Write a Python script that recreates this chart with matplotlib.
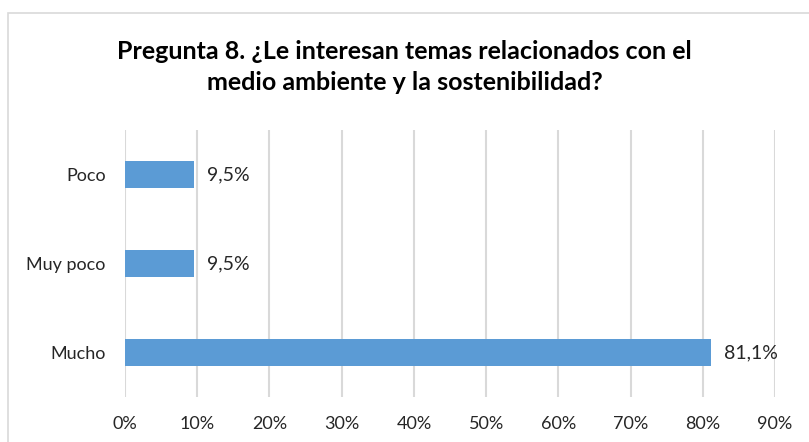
import matplotlib.pyplot as plt
from matplotlib.patches import Rectangle
from matplotlib.ticker import FuncFormatter

# data
categories = ["Mucho", "Muy poco", "Poco"]
values = [81.1, 9.5, 9.5]
labels = ["81,1%", "9,5%", "9,5%"]
xticks = [0, 10, 20, 30, 40, 50, 60, 70, 80, 90]

bar_color = "#5B9BD5"
grid_color = "#D9D9D9"

plt.rcParams["font.family"] = ["Lato", "DejaVu Sans"]

fig = plt.figure(figsize=(8.09, 4.42), dpi=100)

# chart area border (cropped at right and bottom)
fig.patches.append(Rectangle((8 / 809, -0.01), 1.0, 1 - 12.5 / 442 + 0.01,
                             transform=fig.transFigure, fill=False,
                             edgecolor="#D9D9D9", lw=1.2))

ax = fig.add_axes([125 / 809, 1 - 397 / 442, 650 / 809, 267 / 442])

ax.barh(range(len(categories)), values, height=0.31, color=bar_color, zorder=3)
for i, (v, t) in enumerate(zip(values, labels)):
    ax.text(v + 1.8, i, t, va="center", ha="left", fontsize=14, color="#262626")

ax.set_xlim(0, 90)
ax.set_ylim(-0.5, 2.5)
ax.set_xticks(xticks)
ax.xaxis.set_major_formatter(FuncFormatter(lambda x, p: f"{int(x)}%"))
ax.set_yticks(range(len(categories)))
ax.set_yticklabels(categories)
ax.tick_params(axis="both", length=0, labelsize=13, colors="#262626")
ax.tick_params(axis="x", pad=14)
ax.tick_params(axis="y", pad=14)
ax.grid(axis="x", color=grid_color, lw=1.5, zorder=0)
for s in ax.spines.values():
    s.set_visible(False)

fig.text(0.5, 1 - 67 / 442,
         "Pregunta 8. ¿Le interesan temas relacionados con el\nmedio ambiente y la sostenibilidad?",
         ha="center", va="center", fontsize=18, fontweight="bold",
         color="#000000", linespacing=1.4)

fig.savefig("out.png", dpi=100)
